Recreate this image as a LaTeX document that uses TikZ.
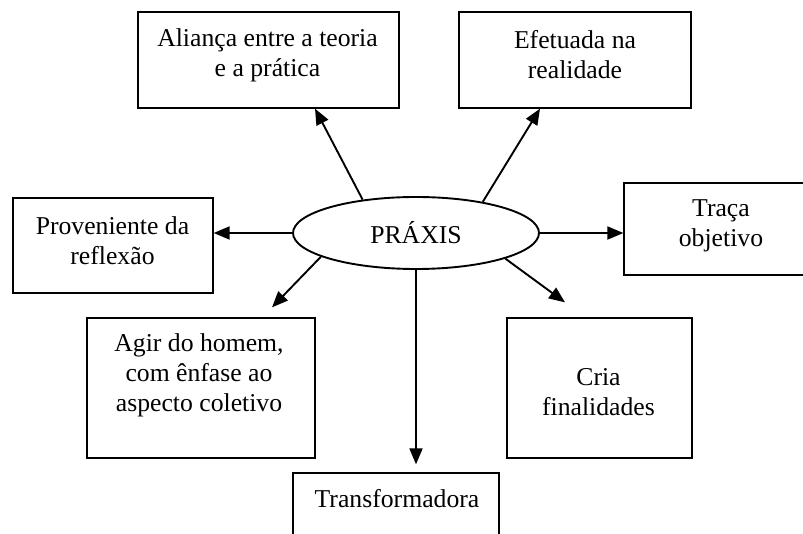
\documentclass[tikz,border=0pt]{standalone}
\usepackage{fontspec}
\setmainfont{Liberation Serif}
\usetikzlibrary{shapes.geometric,arrows.meta}
\begin{document}
\begin{tikzpicture}[x=1pt,y=-1pt,
  box/.style={draw=black, line width=1.3pt, rectangle, inner sep=0pt},
  txt/.style={align=center, inner sep=0pt, font=\fontsize{25.7}{30}\selectfont},
  arr/.style={line width=1.9pt, -{Triangle[length=16pt,width=13pt]}}]
\useasboundingbox (0,0) rectangle (803,534);
\clip (0,0) rectangle (803,534);
\fill[white] (0,0) rectangle (803,534);
% central ellipse
\node[draw=black, ellipse, line width=1.9pt, minimum width=246pt, minimum height=72pt, inner sep=0pt, font=\fontsize{25.7}{30}\selectfont] (p) at (416,233) {PRÁXIS};
% boxes
\node[box, minimum width=261pt, minimum height=96pt] (al) at (268.5,60) {};
\node[txt] (alt) at (267.5,55) {Aliança entre a teoria\\e a prática};
\node[box, minimum width=232pt, minimum height=96pt] (ef) at (575,60) {};
\node[txt] (eft) at (575,55) {Efetuada na\\realidade};
\node[box, minimum width=200pt, minimum height=95pt] (pr) at (113,245.5) {};
\node[txt] (prt) at (112.5,240.5) {Proveniente da\\reflexão};
\node[box, minimum width=194pt, minimum height=92pt] (tr) at (721,229) {};
\node[txt] (trt) at (721,226) {Traça\\objetivo};
\node[box, minimum width=228pt, minimum height=140pt] (ag) at (201,388) {};
\node[txt] (agt) at (199,375.5) {Agir do homem,\\com ênfase ao\\aspecto coletivo};
\node[box, minimum width=185pt, minimum height=140pt] (cr) at (599.5,388) {};
\node[txt] (crt) at (598.5,392) {Cria\\finalidades};
\node[box, minimum width=206pt, minimum height=100pt] (tf) at (396,523) {};
\node[txt] (tft) at (397,499) {Transformadora};
% connectors
\draw[arr] (p.148.6) -- ([xshift=46.5pt]al.south);
\draw[arr] (p.25.8) -- ([xshift=-35pt]ef.south);
\draw[arr] (p.west) -- (p.west -| pr.east);
\draw[arr] (p.east) -- (p.east -| tr.west);
\draw[arr] (p.194.8) -- ([xshift=71pt,yshift=10pt]ag.north);
\draw[arr] (p.344.6) -- ([xshift=-34.5pt,yshift=15pt]cr.north);
\draw[arr, shorten >=8pt] (p.south) -- (p.south |- tf.north);
\end{tikzpicture}
\end{document}
